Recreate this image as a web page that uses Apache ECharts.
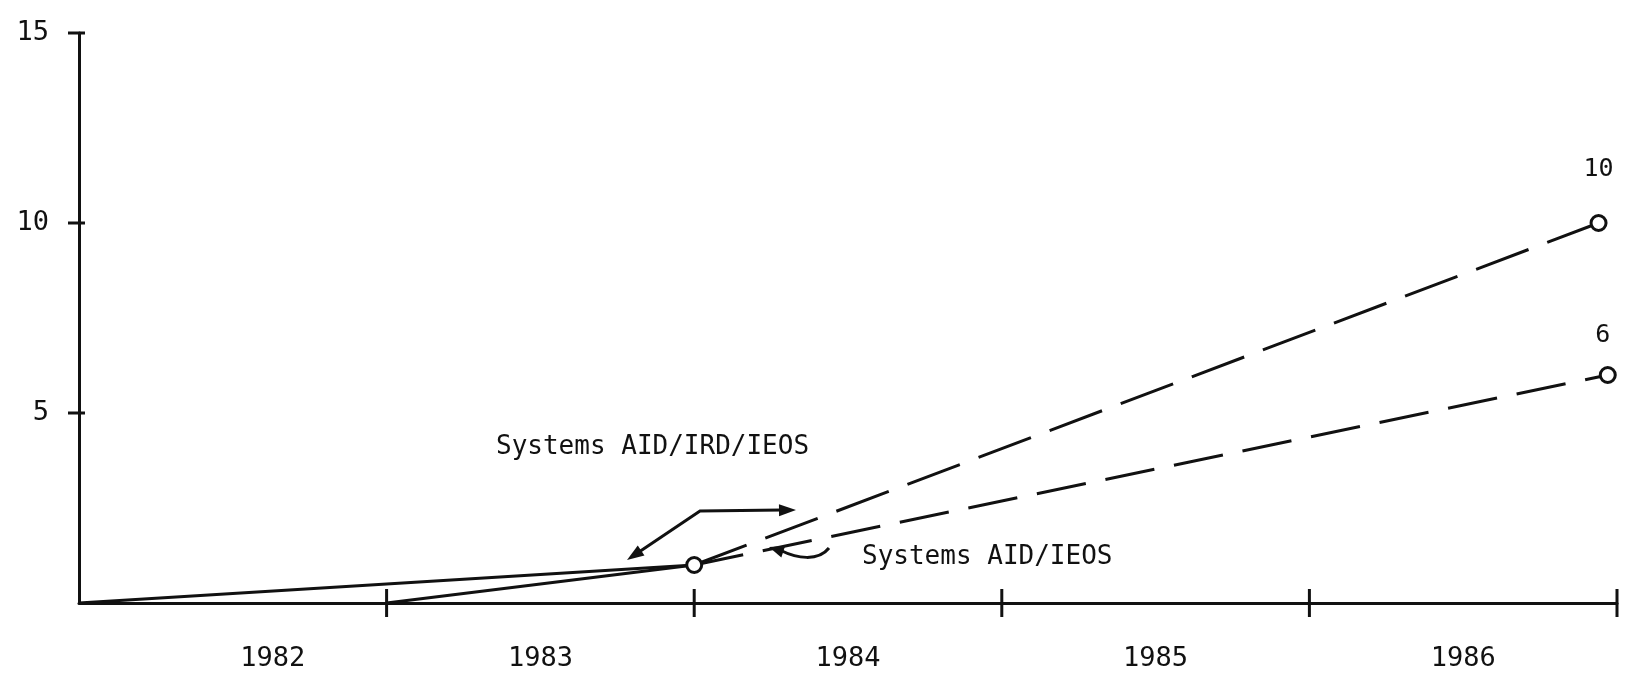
<!DOCTYPE html>
<html>
<head>
<meta charset="utf-8">
<style>
  html, body { margin: 0; background: #fff; }
  #chart { width: 1636px; height: 679px; }
</style>
<script src="https://cdn.jsdelivr.net/npm/echarts@6/dist/echarts.min.js"></script>
</head>
<body>
<div id="chart"></div>
<script>
// years shown under the axis, one label per year span
const years = ['1982', '1983', '1984', '1985', '1986'];
// year boundaries and y values that get a crossing tick mark
const xTickYears = [1983, 1984, 1985, 1986, 1987];
const yTickValues = [5, 10, 15];

// [year position, count]
const aidIrdIeosActual = [[1982, 0], [1984, 1]];
const aidIrdIeosPlanned = [[1984, 1], [1986.94, 10]];
const aidIeosActual = [[1983, 0], [1984, 1]];
const aidIeosPlanned = [[1984, 1], [1986.97, 6]];

const ink = '#111';
const mono = '"DejaVu Sans Mono", "Liberation Mono", monospace';
const lw = 3;

// filled arrow head, tip at `tip`, pointing away from `from`
function head(tip, from, len, half) {
  len = len || 17; half = half || 6;
  const dx = tip[0] - from[0], dy = tip[1] - from[1];
  const d = Math.sqrt(dx * dx + dy * dy);
  const ux = dx / d, uy = dy / d;
  const bx = tip[0] - ux * len, by = tip[1] - uy * len;
  return {
    type: 'polygon',
    shape: { points: [tip, [bx - uy * half, by + ux * half], [bx + uy * half, by - ux * half]] },
    style: { fill: ink }
  };
}

// end label + hollow circle on the last planned point
function planned(data, labelDist, labelOffset) {
  return data.map((p, i) => {
    const last = i === data.length - 1;
    const item = { value: p, symbol: last ? 'circle' : 'none' };
    if (last) {
      item.label = {
        show: true, position: 'top', distance: labelDist, offset: labelOffset,
        formatter: o => o.value[1], color: ink, fontSize: 25, fontFamily: mono
      };
    }
    return item;
  });
}

// the 1982 label sits right of its span's centre in the original
const yearLabels = years.map((y, i) => (i === 0 ? { value: y, textStyle: { padding: [0, 0, 0, 80] } } : y));

// [x, y, kind]: kind 0 = tick across the x axis, 1 = across the y axis
const tickMarks = xTickYears.map(x => [x, 0, 0]).concat(yTickValues.map(v => [1982, v, 1]));

const axisInk = { show: true, onZero: false, lineStyle: { color: ink, width: lw } };

const chart = echarts.init(document.getElementById('chart'));

const option = {
  animation: false,
  backgroundColor: '#fff',
  grid: { left: 79, right: 19, top: 33, bottom: 76, containLabel: false },
  xAxis: [
    {
      type: 'category', data: yearLabels, boundaryGap: true, position: 'bottom',
      axisLine: axisInk,
      axisTick: { show: false },
      axisLabel: { show: true, color: ink, fontSize: 27, fontFamily: mono, margin: 42 },
      splitLine: { show: false }
    },
    {
      // year scale used by the series
      type: 'value', min: 1982, max: 1987, interval: 1, position: 'bottom',
      axisLine: { show: false }, axisTick: { show: false },
      axisLabel: { show: false }, splitLine: { show: false }
    }
  ],
  yAxis: [
    {
      type: 'value', min: 0, max: 15, interval: 5, position: 'left',
      axisLine: axisInk,
      axisTick: { show: false },
      axisLabel: {
        color: ink, fontSize: 27, fontFamily: mono, margin: 30,
        formatter: v => (v === 0 ? '' : v)
      },
      splitLine: { show: false }
    }
  ],
  series: [
    {
      name: 'ticks', type: 'custom', xAxisIndex: 1, yAxisIndex: 0,
      clip: false, silent: true, data: tickMarks,
      renderItem: (params, api) => {
        const p = api.coord([api.value(0), api.value(1)]);
        const shape = api.value(2) === 0
          ? { x1: p[0], y1: p[1] - 14, x2: p[0], y2: p[1] + 14 }
          : { x1: p[0] - 11, y1: p[1], x2: p[0] + 6, y2: p[1] };
        return { type: 'line', shape: shape, style: { stroke: ink, lineWidth: lw } };
      }
    },
    {
      name: 'Systems AID/IRD/IEOS', type: 'line', xAxisIndex: 1, yAxisIndex: 0,
      data: aidIrdIeosActual.map((p, i) => ({ value: p, symbol: i === 1 ? 'circle' : 'none' })),
      symbolSize: 15, z: 3,
      itemStyle: { color: '#fff', borderColor: ink, borderWidth: lw },
      lineStyle: { color: ink, width: lw }
    },
    {
      name: 'Systems AID/IRD/IEOS (plan)', type: 'line', xAxisIndex: 1, yAxisIndex: 0,
      data: planned(aidIrdIeosPlanned, 32, [0, 0]),
      symbolSize: 15,
      itemStyle: { color: '#fff', borderColor: ink, borderWidth: lw },
      lineStyle: { color: ink, width: lw, type: [56, 20] }
    },
    {
      name: 'Systems AID/IEOS', type: 'line', xAxisIndex: 1, yAxisIndex: 0,
      data: aidIeosActual, symbol: 'none',
      lineStyle: { color: ink, width: lw }
    },
    {
      name: 'Systems AID/IEOS (plan)', type: 'line', xAxisIndex: 1, yAxisIndex: 0,
      data: planned(aidIeosPlanned, 18, [-5, 0]),
      symbolSize: 15,
      itemStyle: { color: '#fff', borderColor: ink, borderWidth: lw },
      lineStyle: { color: ink, width: lw, type: [50, 20] }
    }
  ],
  graphic: [
    {
      type: 'text', x: 496, y: 447,
      style: { text: 'Systems AID/IRD/IEOS', font: '26px ' + mono, fill: ink, verticalAlign: 'middle' }
    },
    {
      type: 'text', x: 862, y: 557,
      style: { text: 'Systems AID/IEOS', font: '26px ' + mono, fill: ink, verticalAlign: 'middle' }
    },
    {
      type: 'polyline',
      shape: { points: [[636, 554], [700, 511], [782, 510]] },
      style: { stroke: ink, lineWidth: lw, fill: null }
    },
    head([627, 560], [700, 511]),
    head([796, 510], [700, 511]),
    {
      type: 'bezierCurve',
      shape: { x1: 829, y1: 548, cpx1: 818, cpy1: 562, cpx2: 796, cpy2: 558, x2: 782, y2: 551 },
      style: { stroke: ink, lineWidth: lw, fill: null }
    },
    head([769, 547], [790, 554], 15, 6)
  ]
};

chart.setOption(option);
</script>
</body>
</html>
